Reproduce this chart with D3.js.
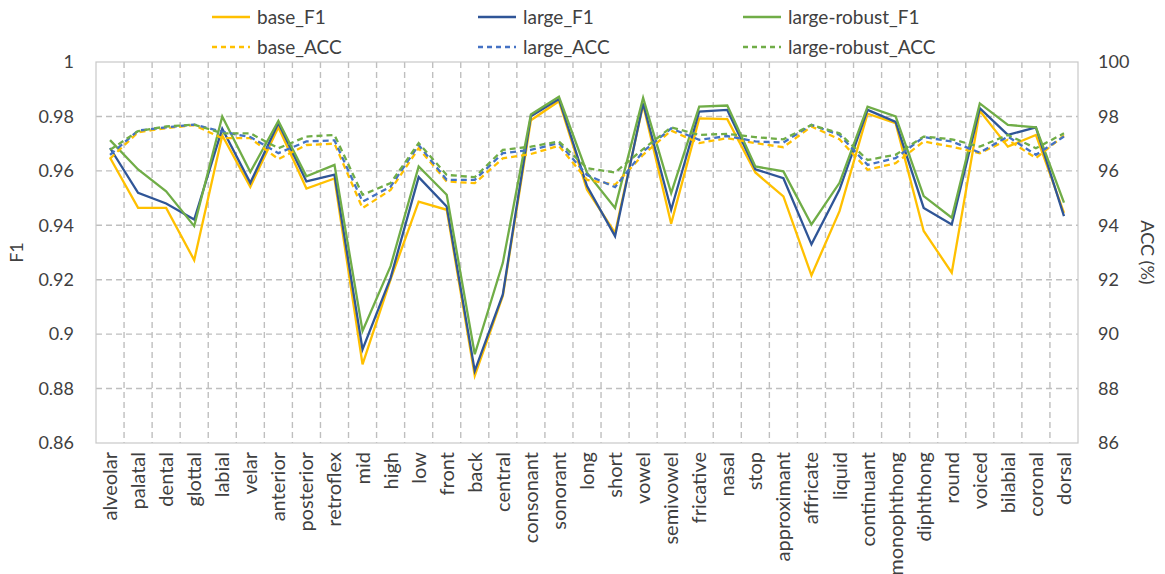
<!DOCTYPE html>
<html>
<head>
<meta charset="utf-8">
<script src="https://cdn.jsdelivr.net/npm/d3@7"></script>
<style>
    body { margin: 0; background: #fff; }
    text { font-family: Lato, "Open Sans", sans-serif; fill: #404040; }
</style>
</head>
<body>
<div id="chart"></div>
<script>
const categories = ["alveolar", "palatal", "dental", "glottal", "labial", "velar", "anterior", "posterior", "retroflex",
    "mid", "high", "low", "front", "back", "central", "consonant", "sonorant", "long", "short", "vowel", "semivowel",
    "fricative", "nasal", "stop", "approximant", "affricate", "liquid", "continuant", "monophthong", "diphthong",
    "round", "voiced", "bilabial", "coronal", "dorsal"];

const baseF1 = [0.9648, 0.9464, 0.9464, 0.9272, 0.9730, 0.9541, 0.9760, 0.9535, 0.9572, 0.8889, 0.9201, 0.9487,
    0.9457, 0.8847, 0.9140, 0.9786, 0.9856, 0.9531, 0.9372, 0.9843, 0.9406, 0.9793, 0.9790, 0.9594, 0.9506,
    0.9216, 0.9452, 0.9810, 0.9775, 0.9379, 0.9226, 0.9821, 0.9689, 0.9732, 0.9446];
const largeF1 = [0.9684, 0.9519, 0.9480, 0.9421, 0.9755, 0.9556, 0.9776, 0.9561, 0.9586, 0.8944, 0.9207, 0.9577,
    0.9469, 0.8865, 0.9146, 0.9801, 0.9864, 0.9544, 0.9360, 0.9848, 0.9457, 0.9818, 0.9824, 0.9606, 0.9573,
    0.9330, 0.9531, 0.9824, 0.9780, 0.9464, 0.9403, 0.9830, 0.9732, 0.9760, 0.9434];
const robustF1 = [0.9713, 0.9605, 0.9525, 0.9397, 0.9800, 0.9596, 0.9783, 0.9580, 0.9622, 0.9012, 0.9250, 0.9616,
    0.9512, 0.8926, 0.9262, 0.9807, 0.9872, 0.9593, 0.9464, 0.9868, 0.9518, 0.9836, 0.9840, 0.9616, 0.9598,
    0.9403, 0.9556, 0.9836, 0.9800, 0.9507, 0.9428, 0.9848, 0.9769, 0.9760, 0.9483];

const baseACC = [96.45, 97.42, 97.57, 97.68, 97.20, 97.20, 96.43, 96.95, 97.00, 94.63, 95.30, 96.83, 95.61, 95.55,
    96.46, 96.62, 96.92, 95.67, 95.49, 96.59, 97.48, 97.02, 97.20, 97.02, 96.87, 97.63, 97.16, 96.04, 96.28,
    97.08, 96.89, 96.65, 97.14, 96.47, 97.30];
const largeACC = [96.59, 97.48, 97.60, 97.70, 97.44, 97.24, 96.65, 97.08, 97.12, 94.87, 95.42, 96.95, 95.67, 95.67,
    96.65, 96.77, 97.02, 95.85, 95.40, 96.71, 97.56, 97.14, 97.28, 97.08, 97.04, 97.69, 97.32, 96.22, 96.47,
    97.24, 97.08, 96.67, 97.26, 96.59, 97.26];
const robustACC = [96.77, 97.46, 97.63, 97.70, 97.38, 97.38, 96.83, 97.26, 97.32, 95.12, 95.55, 97.02, 95.85, 95.77,
    96.77, 96.89, 97.08, 96.10, 95.94, 96.80, 97.60, 97.32, 97.36, 97.24, 97.16, 97.69, 97.38, 96.40, 96.59,
    97.26, 97.16, 96.89, 97.32, 96.83, 97.38];

const f1Ticks = [0.86, 0.88, 0.9, 0.92, 0.94, 0.96, 0.98, 1];
const accTicks = [86, 88, 90, 92, 94, 96, 98, 100];

const series = [
    {name: "base_F1", values: baseF1, axis: "left", color: "#ffc000", dash: null},
    {name: "large_F1", values: largeF1, axis: "left", color: "#2f5597", dash: null},
    {name: "large-robust_F1", values: robustF1, axis: "left", color: "#70ad47", dash: null},
    {name: "base_ACC", values: baseACC, axis: "right", color: "#ffc000", dash: "6,4"},
    {name: "large_ACC", values: largeACC, axis: "right", color: "#4472c4", dash: "6,4"},
    {name: "large-robust_ACC", values: robustACC, axis: "right", color: "#70ad47", dash: "6,4"}
];

class PhoneChart {
    constructor(parentElement) {
        this.parentElement = parentElement;
        this.initVis();
    }

    initVis() {
        let vis = this;
        vis.width = 1165;
        vis.height = 574;
        vis.margin = {top: 62, right: 87, bottom: 131, left: 96};
        vis.innerW = vis.width - vis.margin.left - vis.margin.right;
        vis.innerH = vis.height - vis.margin.top - vis.margin.bottom;

        vis.svg = d3.select("#" + vis.parentElement)
            .append("svg")
            .attr("width", vis.width)
            .attr("height", vis.height);

        vis.g = vis.svg.append("g")
            .attr("transform", `translate(${vis.margin.left},${vis.margin.top})`);

        vis.x = d3.scaleBand().domain(categories).range([0, vis.innerW]);
        vis.yL = d3.scaleLinear().domain([0.86, 1]).range([vis.innerH, 0]);
        vis.yR = d3.scaleLinear().domain([86, 100]).range([vis.innerH, 0]);

        // gridlines
        vis.g.append("g").selectAll("line.h")
            .data(f1Ticks.slice(1, -1))
            .enter().append("line")
            .attr("x1", 0).attr("x2", vis.innerW)
            .attr("y1", d => vis.yL(d)).attr("y2", d => vis.yL(d))
            .attr("stroke", "#bfbfbf").attr("stroke-width", 1.4)
            .attr("stroke-dasharray", "6,4");

        vis.g.append("g").selectAll("line.v")
            .data(categories.slice(1))
            .enter().append("line")
            .attr("x1", d => vis.x(d)).attr("x2", d => vis.x(d))
            .attr("y1", 0).attr("y2", vis.innerH)
            .attr("stroke", "#bfbfbf").attr("stroke-width", 1.4)
            .attr("stroke-dasharray", "6,4");

        vis.g.append("rect")
            .attr("width", vis.innerW).attr("height", vis.innerH)
            .attr("fill", "none").attr("stroke", "#c8c8c8").attr("stroke-width", 1.2);

        // axes
        const leftAxis = vis.g.append("g")
            .call(d3.axisLeft(vis.yL).tickValues(f1Ticks).tickSize(0).tickPadding(22).tickFormat(d => d3.format("")(+d.toFixed(2))));
        const rightAxis = vis.g.append("g")
            .attr("transform", `translate(${vis.innerW},0)`)
            .call(d3.axisRight(vis.yR).tickValues(accTicks).tickSize(0).tickPadding(20));
        const bottomAxis = vis.g.append("g")
            .attr("transform", `translate(0,${vis.innerH})`)
            .call(d3.axisBottom(vis.x).tickSize(0));

        [leftAxis, rightAxis, bottomAxis].forEach(a => {
            a.select(".domain").remove();
            a.selectAll("text").style("font-size", "18px").attr("fill", "#404040");
        });

        bottomAxis.selectAll("text")
            .style("font-size", "20px")
            .attr("transform", "rotate(-90)")
            .attr("text-anchor", "end")
            .attr("x", -9)
            .attr("y", 0)
            .attr("dy", "0.35em");

        vis.svg.append("text")
            .attr("transform", `translate(23,${vis.margin.top + vis.innerH / 2}) rotate(-90)`)
            .attr("text-anchor", "middle")
            .style("font-size", "18px")
            .text("F1");

        vis.svg.append("text")
            .attr("transform", `translate(1141,${vis.margin.top + vis.innerH / 2}) rotate(90)`)
            .attr("text-anchor", "middle")
            .style("font-size", "18px")
            .text("ACC (%)");

        vis.drawLines();
        vis.drawLegend();
    }

    drawLines() {
        let vis = this;
        const cx = d => vis.x(d) + vis.x.bandwidth() / 2;

        series.forEach(s => {
            const scale = s.axis === "left" ? vis.yL : vis.yR;
            const line = d3.line()
                .x((d, i) => cx(categories[i]))
                .y(d => scale(d));
            vis.g.append("path")
                .datum(s.values)
                .attr("d", line)
                .attr("fill", "none")
                .attr("stroke", s.color)
                .attr("stroke-width", 2.3)
                .attr("stroke-dasharray", s.dash);
        });
    }

    drawLegend() {
        let vis = this;
        const cols = [212, 478, 743];
        const rows = [17, 47];

        let legend = vis.svg.append("g").attr("class", "legend");
        series.forEach((s, i) => {
            const lx = cols[i % 3];
            const ly = rows[Math.floor(i / 3)];
            legend.append("line")
                .attr("x1", lx).attr("x2", lx + 38)
                .attr("y1", ly).attr("y2", ly)
                .attr("stroke", s.color).attr("stroke-width", 2.3)
                .attr("stroke-dasharray", s.dash ? "5,4" : null);
            legend.append("text")
                .attr("x", lx + 45).attr("y", ly)
                .attr("dy", "0.35em")
                .style("font-size", "19px")
                .text(s.name);
        });
    }
}

new PhoneChart("chart");
</script>
</body>
</html>
